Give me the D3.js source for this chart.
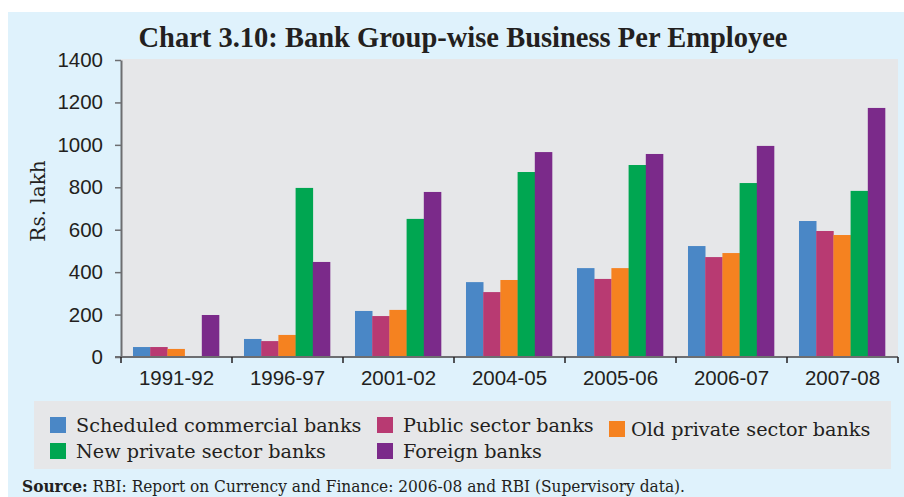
<!DOCTYPE html>
<html>
<head>
<meta charset="utf-8">
<script src="https://cdn.jsdelivr.net/npm/d3@7/dist/d3.min.js"></script>
<style>
  html, body { margin: 0; padding: 0; background: #ffffff; }
  svg { display: block; }
</style>
</head>
<body>
<svg id="chart" width="904" height="497"></svg>
<script>
// Business per employee (Rs. lakh) by bank group
const years = ["1991-92", "1996-97", "2001-02", "2004-05", "2005-06", "2006-07", "2007-08"];
const seriesNames = ["Scheduled commercial banks", "Public sector banks", "Old private sector banks",
                     "New private sector banks", "Foreign banks"];
const scheduledCommercial = [47, 85, 217, 353, 419, 523, 641];
const publicSector        = [47, 75, 193, 306, 368, 471, 594];
const oldPrivate          = [38, 104, 222, 363, 419, 490, 575];
const newPrivate          = [null, 797, 651, 872, 905, 820, 783];
const foreign             = [198, 448, 778, 966, 957, 995, 1174];
const yTicks = [0, 200, 400, 600, 800, 1000, 1200, 1400];

const colors = ["#4a87c6", "#b83a72", "#f58220", "#00a651", "#7b2a8a"];
const seriesValues = [scheduledCommercial, publicSector, oldPrivate, newPrivate, foreign];

const svg = d3.select("#chart");
const serif = "'DejaVu Serif', serif";
const sans = "'Liberation Sans', Arial, sans-serif";

// panel background
svg.append("rect").attr("x", 8).attr("y", 12).attr("width", 896).attr("height", 485).attr("fill", "#dff2fc");

const plot = { left: 121, top: 59, right: 898, bottom: 357 };

svg.append("rect")
  .attr("x", plot.left).attr("y", plot.top)
  .attr("width", plot.right - plot.left).attr("height", plot.bottom - plot.top)
  .attr("fill", "#e6e7e9");

// title
svg.append("text")
  .attr("x", 463).attr("y", 47)
  .attr("text-anchor", "middle")
  .style("font-family", "'Liberation Serif', 'Times New Roman', serif")
  .style("font-weight", "bold").style("font-size", "28.5px")
  .attr("fill", "#231f20")
  .text("Chart 3.10: Bank Group-wise Business Per Employee");

const x0 = d3.scaleBand().domain(years).range([plot.left, plot.right]).padding(0);
const bw = x0.bandwidth();
const x1 = d3.scaleBand().domain(seriesNames).range([bw * 0.108, bw * 0.883]).padding(0);
const y = d3.scaleLinear().domain([0, 1400]).range([plot.bottom, plot.top + 1]);

// bars
const groups = svg.append("g").selectAll("g")
  .data(years)
  .join("g")
  .attr("transform", d => `translate(${x0(d)},0)`);

groups.selectAll("rect")
  .data((d, i) => seriesNames.map((s, j) => ({ s, j, v: seriesValues[j][i] })).filter(e => e.v != null))
  .join("rect")
  .attr("x", d => x1(d.s))
  .attr("width", x1.bandwidth() + 0.3)
  .attr("y", d => y(d.v))
  .attr("height", d => y(0) - y(d.v))
  .attr("fill", d => colors[d.j]);

// y axis
const yAxis = svg.append("g")
  .attr("transform", `translate(${plot.left},0)`)
  .call(d3.axisLeft(y).tickValues(yTicks).tickFormat(d3.format("d"))
    .tickSize(6).tickPadding(12).tickSizeOuter(0));
yAxis.select(".domain").attr("stroke", "#6d6e71").attr("stroke-width", 2);
yAxis.selectAll(".tick line").attr("stroke", "#6d6e71").attr("stroke-width", 1.5);
yAxis.selectAll(".tick text")
  .style("font-family", sans).style("font-size", "20.5px").attr("fill", "#231f20");

// x axis: ticks at category boundaries
const xAxisG = svg.append("g").attr("transform", `translate(0,${plot.bottom})`);
xAxisG.append("line")
  .attr("x1", plot.left - 6).attr("x2", plot.right)
  .attr("stroke", "#6d6e71").attr("stroke-width", 2);
const boundaries = years.map(d => x0(d)).concat([x0(years[years.length - 1]) + bw]);
xAxisG.selectAll("line.tk")
  .data(boundaries)
  .join("line")
  .attr("class", "tk")
  .attr("x1", d => d).attr("x2", d => d)
  .attr("y1", 0).attr("y2", 6)
  .attr("stroke", "#231f20").attr("stroke-width", 1.5);
xAxisG.selectAll("text")
  .data(years)
  .join("text")
  .attr("x", d => x0(d) + bw / 2)
  .attr("y", 28)
  .attr("text-anchor", "middle")
  .style("font-family", sans).style("font-size", "20.5px").attr("fill", "#231f20")
  .text(d => d);

// y label
svg.append("text")
  .attr("transform", "translate(45,201) rotate(-90)")
  .attr("text-anchor", "middle")
  .style("font-family", serif).style("font-size", "20px").attr("fill", "#231f20")
  .text("Rs. lakh");

// legend
svg.append("rect").attr("x", 34).attr("y", 401).attr("width", 857).attr("height", 68).attr("fill", "#e6e7e9");
const legendPos = [
  { x: 50, y: 417 }, { x: 377, y: 417 }, { x: 609, y: 421 },
  { x: 50, y: 443 }, { x: 377, y: 443 }
];
const legendGap = [26, 26, 22, 26, 26];
const legend = svg.append("g").selectAll("g")
  .data(seriesNames)
  .join("g")
  .attr("transform", (d, i) => `translate(${legendPos[i].x},${legendPos[i].y})`);
legend.append("rect").attr("width", 16).attr("height", 16).attr("fill", (d, i) => colors[i]);
legend.append("text")
  .attr("x", (d, i) => legendGap[i]).attr("y", 15)
  .style("font-family", serif).style("font-size", "19.2px").attr("fill", "#231f20")
  .text(d => d);

// source note
const src = svg.append("text")
  .attr("x", 22).attr("y", 492)
  .attr("textLength", 663).attr("lengthAdjust", "spacingAndGlyphs")
  .style("font-family", serif).style("font-size", "16.5px").attr("fill", "#231f20");
src.append("tspan").style("font-weight", "bold").text("Source:");
src.append("tspan").text(" RBI: Report on Currency and Finance: 2006-08 and RBI (Supervisory data).");
</script>
</body>
</html>
